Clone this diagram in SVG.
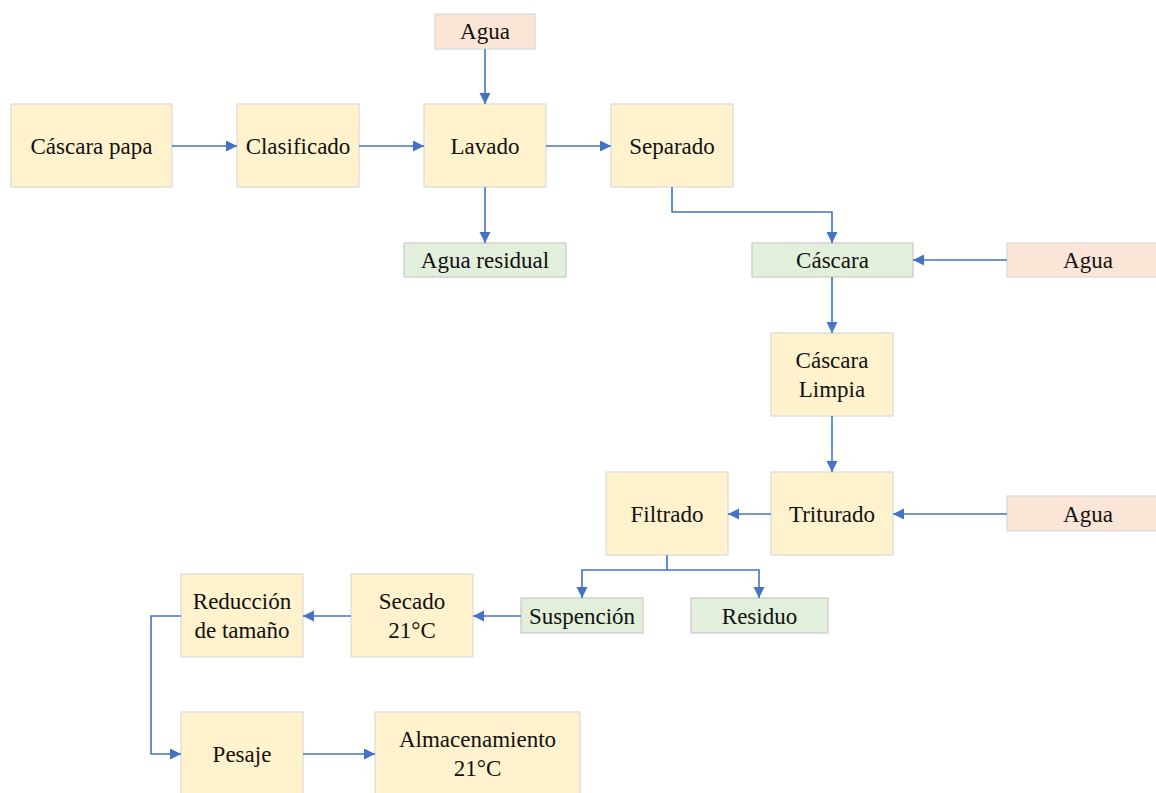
<svg xmlns="http://www.w3.org/2000/svg" width="1156" height="793" viewBox="0 0 1156 793">
<style>
.p{fill:#FFF2CC;stroke:#D9D9D9;stroke-width:1.2}
.g{fill:#E2EFDA;stroke:#C9C9C9;stroke-width:1.2}
.w{fill:#FBE5D6;stroke:#D9D9D9;stroke-width:1.2}
text{font-family:"Liberation Serif","Times New Roman",serif;font-size:23px;fill:#111;text-anchor:middle}
.c{fill:none;stroke:#4472C4;stroke-width:1.6}
</style>
<defs>
<marker id="a" markerWidth="12" markerHeight="12" refX="11" refY="5.5" orient="auto" markerUnits="userSpaceOnUse">
<path d="M0,0 L11,5.5 L0,11 z" fill="#4472C4"/>
</marker>
</defs>
<g id="n1"><rect class="p" x="11" y="104" width="161" height="83"/><text x="91.5" y="154">Cáscara papa</text></g>
<g id="n2"><rect class="p" x="237" y="104" width="122" height="83"/><text x="298" y="154">Clasificado</text></g>
<g id="n3"><rect class="w" x="435" y="14" width="100" height="35"/><text x="485" y="39">Agua</text></g>
<g id="n4"><rect class="p" x="424" y="104" width="122" height="83"/><text x="485" y="154">Lavado</text></g>
<g id="n5"><rect class="g" x="404" y="243" width="162" height="34"/><text x="485" y="268">Agua residual</text></g>
<g id="n6"><rect class="p" x="611" y="104" width="122" height="83"/><text x="672" y="154">Separado</text></g>
<g id="n7"><rect class="g" x="752" y="243" width="161" height="34"/><text x="832.5" y="268">Cáscara</text></g>
<g id="n8"><rect class="w" x="1007" y="243" width="162" height="34"/><text x="1088" y="268">Agua</text></g>
<g id="n9"><rect class="p" x="771" y="333" width="122" height="83"/><text x="832" y="368">Cáscara</text><text x="832" y="397">Limpia</text></g>
<g id="n10"><rect class="p" x="771" y="472" width="122" height="83"/><text x="832" y="522">Triturado</text></g>
<g id="n11"><rect class="w" x="1007" y="496" width="162" height="35"/><text x="1088" y="522">Agua</text></g>
<g id="n12"><rect class="p" x="606" y="472" width="122" height="83"/><text x="667" y="522">Filtrado</text></g>
<g id="n13"><rect class="g" x="521" y="598" width="122" height="35"/><text x="582" y="624">Suspención</text></g>
<g id="n14"><rect class="g" x="691" y="598" width="137" height="35"/><text x="759.5" y="624">Residuo</text></g>
<g id="n15"><rect class="p" x="351" y="574" width="122" height="83"/><text x="412" y="609">Secado</text><text x="412" y="638">21°C</text></g>
<g id="n16"><rect class="p" x="181" y="574" width="122" height="83"/><text x="242" y="609">Reducción</text><text x="242" y="638">de tamaño</text></g>
<g id="n17"><rect class="p" x="181" y="712" width="122" height="84"/><text x="242" y="762">Pesaje</text></g>
<g id="n18"><rect class="p" x="375" y="712" width="205" height="84"/><text x="477.5" y="747">Almacenamiento</text><text x="477.5" y="776">21°C</text></g>
<g id="connectors">
<path class="c" marker-end="url(#a)" d="M172,146 H237"/>
<path class="c" marker-end="url(#a)" d="M359,146 H424"/>
<path class="c" marker-end="url(#a)" d="M546,146 H611"/>
<path class="c" marker-end="url(#a)" d="M485,49 V104"/>
<path class="c" marker-end="url(#a)" d="M485,187 V243"/>
<path class="c" marker-end="url(#a)" d="M672,187 V212 H832 V243"/>
<path class="c" marker-end="url(#a)" d="M1007,260 H913"/>
<path class="c" marker-end="url(#a)" d="M832,277 V333"/>
<path class="c" marker-end="url(#a)" d="M832,416 V472"/>
<path class="c" marker-end="url(#a)" d="M1007,514 H893"/>
<path class="c" marker-end="url(#a)" d="M771,514 H728"/>
<path class="c" marker-end="url(#a)" d="M667,555 V570 H582 V598"/>
<path class="c" marker-end="url(#a)" d="M667,570 H759 V598"/>
<path class="c" marker-end="url(#a)" d="M521,616 H473"/>
<path class="c" marker-end="url(#a)" d="M351,616 H303"/>
<path class="c" marker-end="url(#a)" d="M181,616 H151 V754 H181"/>
<path class="c" marker-end="url(#a)" d="M303,754 H375"/>
</g>
</svg>
